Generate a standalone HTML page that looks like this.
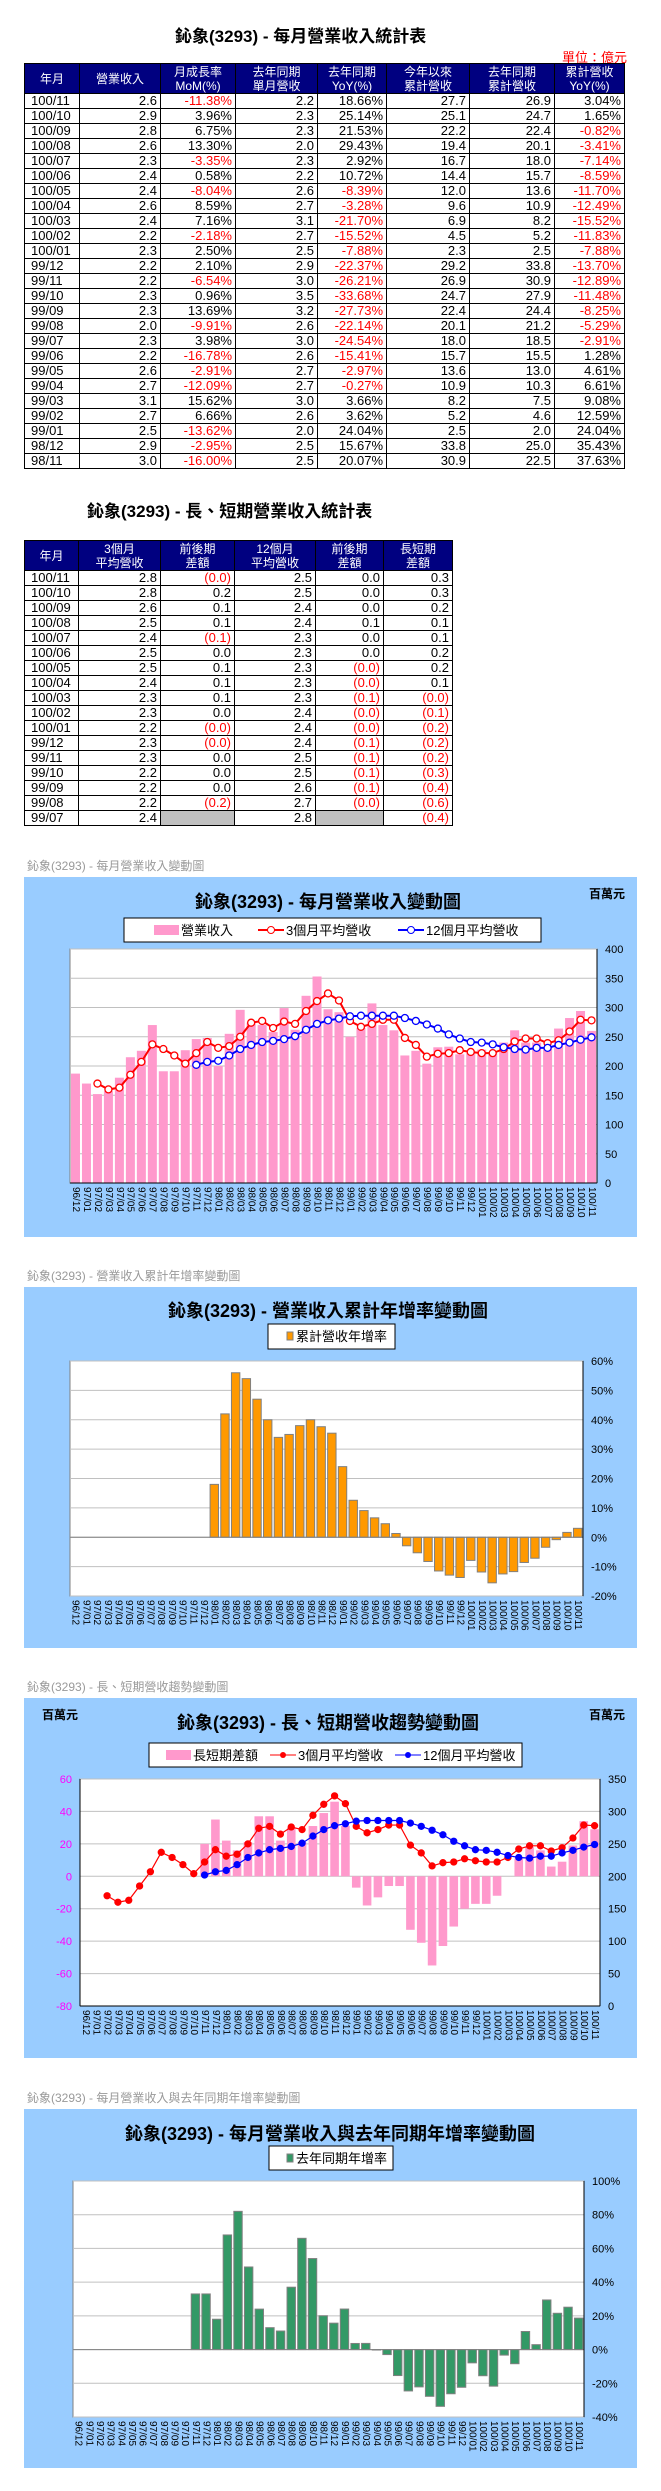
<!DOCTYPE html>
<html><head><meta charset="utf-8">
<style>
body{margin:0;width:661px;height:2491px;position:relative;background:#fff;font-family:"Liberation Sans","Noto Sans CJK TC",sans-serif;overflow:hidden}
.t{position:absolute;border-collapse:collapse;font-size:13px;table-layout:fixed}
.t td,.t th{border:1px solid #000;padding:0 3px;height:14px;line-height:14px;white-space:nowrap;overflow:hidden}
.t th{background:#000080;color:#fff;font-weight:normal;font-size:12px;line-height:14px;height:29px;text-align:center}
.t td{text-align:right}
.t td:first-child{text-align:left;padding-left:6px}
.neg{color:#f00}
.gr{background:#c0c0c0}
.ttl{position:absolute;font-weight:bold;font-size:17px;white-space:nowrap}
svg{position:absolute;left:0;top:0}
</style></head><body>
<div class="ttl" style="left:175px;top:22px">鈊象(3293) - 每月營業收入統計表</div>
<div style="position:absolute;left:562px;top:47px;color:#f00;font-size:13px">單位：億元</div>
<table class="t" style="left:24px;top:63px;width:600px">
<colgroup><col style="width:55px"><col style="width:81px"><col style="width:75px"><col style="width:82px"><col style="width:69px"><col style="width:83px"><col style="width:85px"><col style="width:70px"></colgroup>
<tr><th>年月</th><th>營業收入</th><th>月成長率<br>MoM(%)</th><th>去年同期<br>單月營收</th><th>去年同期<br>YoY(%)</th><th>今年以來<br>累計營收</th><th>去年同期<br>累計營收</th><th>累計營收<br>YoY(%)</th></tr>
<tr><td>100/11</td><td>2.6</td><td class="neg">-11.38%</td><td>2.2</td><td>18.66%</td><td>27.7</td><td>26.9</td><td>3.04%</td></tr>
<tr><td>100/10</td><td>2.9</td><td>3.96%</td><td>2.3</td><td>25.14%</td><td>25.1</td><td>24.7</td><td>1.65%</td></tr>
<tr><td>100/09</td><td>2.8</td><td>6.75%</td><td>2.3</td><td>21.53%</td><td>22.2</td><td>22.4</td><td class="neg">-0.82%</td></tr>
<tr><td>100/08</td><td>2.6</td><td>13.30%</td><td>2.0</td><td>29.43%</td><td>19.4</td><td>20.1</td><td class="neg">-3.41%</td></tr>
<tr><td>100/07</td><td>2.3</td><td class="neg">-3.35%</td><td>2.3</td><td>2.92%</td><td>16.7</td><td>18.0</td><td class="neg">-7.14%</td></tr>
<tr><td>100/06</td><td>2.4</td><td>0.58%</td><td>2.2</td><td>10.72%</td><td>14.4</td><td>15.7</td><td class="neg">-8.59%</td></tr>
<tr><td>100/05</td><td>2.4</td><td class="neg">-8.04%</td><td>2.6</td><td class="neg">-8.39%</td><td>12.0</td><td>13.6</td><td class="neg">-11.70%</td></tr>
<tr><td>100/04</td><td>2.6</td><td>8.59%</td><td>2.7</td><td class="neg">-3.28%</td><td>9.6</td><td>10.9</td><td class="neg">-12.49%</td></tr>
<tr><td>100/03</td><td>2.4</td><td>7.16%</td><td>3.1</td><td class="neg">-21.70%</td><td>6.9</td><td>8.2</td><td class="neg">-15.52%</td></tr>
<tr><td>100/02</td><td>2.2</td><td class="neg">-2.18%</td><td>2.7</td><td class="neg">-15.52%</td><td>4.5</td><td>5.2</td><td class="neg">-11.83%</td></tr>
<tr><td>100/01</td><td>2.3</td><td>2.50%</td><td>2.5</td><td class="neg">-7.88%</td><td>2.3</td><td>2.5</td><td class="neg">-7.88%</td></tr>
<tr><td>99/12</td><td>2.2</td><td>2.10%</td><td>2.9</td><td class="neg">-22.37%</td><td>29.2</td><td>33.8</td><td class="neg">-13.70%</td></tr>
<tr><td>99/11</td><td>2.2</td><td class="neg">-6.54%</td><td>3.0</td><td class="neg">-26.21%</td><td>26.9</td><td>30.9</td><td class="neg">-12.89%</td></tr>
<tr><td>99/10</td><td>2.3</td><td>0.96%</td><td>3.5</td><td class="neg">-33.68%</td><td>24.7</td><td>27.9</td><td class="neg">-11.48%</td></tr>
<tr><td>99/09</td><td>2.3</td><td>13.69%</td><td>3.2</td><td class="neg">-27.73%</td><td>22.4</td><td>24.4</td><td class="neg">-8.25%</td></tr>
<tr><td>99/08</td><td>2.0</td><td class="neg">-9.91%</td><td>2.6</td><td class="neg">-22.14%</td><td>20.1</td><td>21.2</td><td class="neg">-5.29%</td></tr>
<tr><td>99/07</td><td>2.3</td><td>3.98%</td><td>3.0</td><td class="neg">-24.54%</td><td>18.0</td><td>18.5</td><td class="neg">-2.91%</td></tr>
<tr><td>99/06</td><td>2.2</td><td class="neg">-16.78%</td><td>2.6</td><td class="neg">-15.41%</td><td>15.7</td><td>15.5</td><td>1.28%</td></tr>
<tr><td>99/05</td><td>2.6</td><td class="neg">-2.91%</td><td>2.7</td><td class="neg">-2.97%</td><td>13.6</td><td>13.0</td><td>4.61%</td></tr>
<tr><td>99/04</td><td>2.7</td><td class="neg">-12.09%</td><td>2.7</td><td class="neg">-0.27%</td><td>10.9</td><td>10.3</td><td>6.61%</td></tr>
<tr><td>99/03</td><td>3.1</td><td>15.62%</td><td>3.0</td><td>3.66%</td><td>8.2</td><td>7.5</td><td>9.08%</td></tr>
<tr><td>99/02</td><td>2.7</td><td>6.66%</td><td>2.6</td><td>3.62%</td><td>5.2</td><td>4.6</td><td>12.59%</td></tr>
<tr><td>99/01</td><td>2.5</td><td class="neg">-13.62%</td><td>2.0</td><td>24.04%</td><td>2.5</td><td>2.0</td><td>24.04%</td></tr>
<tr><td>98/12</td><td>2.9</td><td class="neg">-2.95%</td><td>2.5</td><td>15.67%</td><td>33.8</td><td>25.0</td><td>35.43%</td></tr>
<tr><td>98/11</td><td>3.0</td><td class="neg">-16.00%</td><td>2.5</td><td>20.07%</td><td>30.9</td><td>22.5</td><td>37.63%</td></tr>
</table>

<div class="ttl" style="left:87px;top:497px">鈊象(3293) - 長、短期營業收入統計表</div>
<table class="t" style="left:24px;top:540px;width:428px">
<colgroup><col style="width:54px"><col style="width:82px"><col style="width:74px"><col style="width:81px"><col style="width:68px"><col style="width:69px"></colgroup>
<tr><th>年月</th><th>3個月<br>平均營收</th><th>前後期<br>差額</th><th>12個月<br>平均營收</th><th>前後期<br>差額</th><th>長短期<br>差額</th></tr>
<tr><td>100/11</td><td>2.8</td><td class="neg">(0.0)</td><td>2.5</td><td>0.0</td><td>0.3</td></tr>
<tr><td>100/10</td><td>2.8</td><td>0.2</td><td>2.5</td><td>0.0</td><td>0.3</td></tr>
<tr><td>100/09</td><td>2.6</td><td>0.1</td><td>2.4</td><td>0.0</td><td>0.2</td></tr>
<tr><td>100/08</td><td>2.5</td><td>0.1</td><td>2.4</td><td>0.1</td><td>0.1</td></tr>
<tr><td>100/07</td><td>2.4</td><td class="neg">(0.1)</td><td>2.3</td><td>0.0</td><td>0.1</td></tr>
<tr><td>100/06</td><td>2.5</td><td>0.0</td><td>2.3</td><td>0.0</td><td>0.2</td></tr>
<tr><td>100/05</td><td>2.5</td><td>0.1</td><td>2.3</td><td class="neg">(0.0)</td><td>0.2</td></tr>
<tr><td>100/04</td><td>2.4</td><td>0.1</td><td>2.3</td><td class="neg">(0.0)</td><td>0.1</td></tr>
<tr><td>100/03</td><td>2.3</td><td>0.1</td><td>2.3</td><td class="neg">(0.1)</td><td class="neg">(0.0)</td></tr>
<tr><td>100/02</td><td>2.3</td><td>0.0</td><td>2.4</td><td class="neg">(0.0)</td><td class="neg">(0.1)</td></tr>
<tr><td>100/01</td><td>2.2</td><td class="neg">(0.0)</td><td>2.4</td><td class="neg">(0.0)</td><td class="neg">(0.2)</td></tr>
<tr><td>99/12</td><td>2.3</td><td class="neg">(0.0)</td><td>2.4</td><td class="neg">(0.1)</td><td class="neg">(0.2)</td></tr>
<tr><td>99/11</td><td>2.3</td><td>0.0</td><td>2.5</td><td class="neg">(0.1)</td><td class="neg">(0.2)</td></tr>
<tr><td>99/10</td><td>2.2</td><td>0.0</td><td>2.5</td><td class="neg">(0.1)</td><td class="neg">(0.3)</td></tr>
<tr><td>99/09</td><td>2.2</td><td>0.0</td><td>2.6</td><td class="neg">(0.1)</td><td class="neg">(0.4)</td></tr>
<tr><td>99/08</td><td>2.2</td><td class="neg">(0.2)</td><td>2.7</td><td class="neg">(0.0)</td><td class="neg">(0.6)</td></tr>
<tr><td>99/07</td><td>2.4</td><td class="gr"></td><td>2.8</td><td class="gr"></td><td class="neg">(0.4)</td></tr>
</table>

<svg id="charts" width="661" height="2491"></svg>

<script>
const cats=["96/12","97/01","97/02","97/03","97/04","97/05","97/06","97/07","97/08","97/09","97/10","97/11","97/12","98/01","98/02","98/03","98/04","98/05","98/06","98/07","98/08","98/09","98/10","98/11","98/12","99/01","99/02","99/03","99/04","99/05","99/06","99/07","99/08","99/09","99/10","99/11","99/12","100/01","100/02","100/03","100/04","100/05","100/06","100/07","100/08","100/09","100/10","100/11"];
const revenue=[187,170,152,157,180,215,226,270,191,191,227,246,248,200,255,296,274,270,258,299,262,320,353,297,292,250,265,307,270,261,218,226,204,232,233,220,222,228,223,240,261,240,240,232,264,282,294,260];
const avg3=[null,null,170,160,163,185,207,237,229,218,204,222,241,231,234,250,274,277,265,276,272,294,311,324,312,277,267,272,279,279,248,236,216,221,222,227,224,222,222,229,242,247,247,239,244,259,279,278];
const avg12=[null,null,null,null,null,null,null,null,null,null,null,202,207,209,218,229,236,241,243,246,251,262,272,278,281,285,286,286,286,286,282,277,271,264,254,247,241,240,237,232,229,228,231,231,236,240,245,249];
const cumYoY=[null,null,null,null,null,null,null,null,null,null,null,null,null,18,42,56,54,47,40,34,35,38,40,37.63,35.43,24.04,12.59,9.08,6.61,4.61,1.28,-2.91,-5.29,-8.25,-11.48,-12.89,-13.7,-7.88,-11.83,-15.52,-12.49,-11.7,-8.59,-7.14,-3.41,-0.82,1.65,3.04];
const longShortDiff=[null,null,null,null,null,null,null,null,null,null,null,20,35,22,16,21,37,37,22,30,21,31,39,46,31,-7,-18,-13,-6,-6,-33,-41,-55,-43,-31,-20,-17,-17,-12,0,11,18,16,6,9,19,34,29];
const yoy=[null,null,null,null,null,null,null,null,null,null,null,33,33,18,68,82,49,24,13,11,37,66,54,20.07,15.67,24.04,3.62,3.66,-0.27,-2.97,-15.41,-24.54,-22.14,-27.73,-33.68,-26.21,-22.37,-7.88,-15.52,-21.7,-3.28,-8.39,10.72,2.92,29.43,21.53,25.14,18.66];
const ticks1=[0,50,100,150,200,250,300,350,400];
const ticks2=[-20,-10,0,10,20,30,40,50,60];
const ticks3L=[-80,-60,-40,-20,0,20,40,60];
const ticks3R=[0,50,100,150,200,250,300,350];
const ticks4=[-40,-20,0,20,40,60,80,100];

const NS="http://www.w3.org/2000/svg";
const svg=document.getElementById('charts');
function el(tag,attrs,parent,txt){const e=document.createElementNS(NS,tag);for(const k in attrs)e.setAttribute(k,attrs[k]);if(txt!==undefined)e.textContent=txt;(parent||svg).appendChild(e);return e;}
function lin(min,max,top,bot){return v=>bot-(v-min)/(max-min)*(bot-top);}
function xband(l,r,n){const w=(r-l)/n;return i=>l+w*(i+0.5);}
const F='"Liberation Sans","Noto Sans CJK TC",sans-serif';

function frame(g,o){
  const bg=el('rect',{x:24,y:o.top,width:613,height:o.h,fill:'#99ccff'},g);
  
  
  const lab=el('text',{x:27,y:o.top-7,'font-size':12,fill:'#999','font-family':F},g,o.label);
  
  
  const t=el('text',{x:o.tx,y:o.ty,'font-size':18,'text-anchor':'middle','font-family':F,fill:'#000','font-weight':'bold'},g,o.title);
  
  
  const p=el('rect',{x:o.L,y:o.T,width:o.R-o.L,height:o.B-o.T,fill:'#fff',stroke:'#808080'},g);
  
  
}
function grid(g,ticks,sc,o,side,color,fmt){
  ticks.forEach(v=>{
    const y=sc(v);
    if(side==='R'){const gl=el('line',{x1:o.L,x2:o.R,y1:y,y2:y,stroke:'#c0c0c0'},g);
      
      }
    const x=side==='R'?o.R+8:o.L-8;
    const tl=el('text',{x:x,y:y+4,'font-size':11,'text-anchor':side==='R'?'start':'end',fill:color,'font-family':F},g,fmt(v));
    
    
  });
}
function xlabels(g,o,xs){
  cats.forEach((c,i)=>{
    const x=xs(i);
    const t=el('text',{x:x,y:o.B+4,'font-size':10,'font-family':F,transform:`rotate(90 ${x} ${o.B+4})`,'dominant-baseline':'middle'},g,c);
    
    
  });
}
function bars(g,data,xs,sc,w,fill,stroke,name){
  data.forEach((v,i)=>{
    if(v===null)return;
    const y0=sc(0),y1=sc(v);
    const r=el('rect',{x:xs(i)-w/2,y:Math.min(y0,y1),width:w,height:Math.abs(y1-y0),fill:fill,stroke:stroke||'none'},g);
    
    
  });
}
function line(g,data,xs,sc,color,filled,name){
  let d='';
  data.forEach((v,i)=>{if(v===null)return;d+=(d?'L':'M')+xs(i)+' '+sc(v);});
  const p=el('path',{d:d,fill:'none',stroke:color,'stroke-width':filled?1.2:2},g);
  
  
  data.forEach((v,i)=>{if(v===null)return;
    const c=el('circle',{cx:xs(i),cy:sc(v),r:filled?3:3.5,fill:filled?color:'#fff',stroke:color,'stroke-width':1.3},g);
    
    
  });
}
function legendBox(g,x,y,w,h){const r=el('rect',{x:x,y:y,width:w,height:h,fill:'#fff',stroke:'#000'},g);
  
  }
function legText(g,x,y,s){const t=el('text',{x:x,y:y,'font-size':13,'font-family':F},g,s);
  
  }

// Chart 1
(function(){
  const g=el('g',{});
  
  
  const o={top:877,h:360,label:'鈊象(3293) - 每月營業收入變動圖',title:'鈊象(3293) - 每月營業收入變動圖',tx:328,ty:908,L:70,R:597,T:949,B:1183};
  frame(g,o);
  const u=el('text',{x:589,y:898,'font-size':12,'font-weight':'bold','font-family':F},g,'百萬元');
  
  
  const sc=lin(0,400,o.T,o.B),xs=xband(o.L,o.R,cats.length);
  grid(g,ticks1,sc,o,'R','#000',v=>v);
  bars(g,revenue,xs,sc,9,'#ff99cc',null,'revenue-bar');
  line(g,avg3,xs,sc,'#ff0000',false,'avg3');
  line(g,avg12,xs,sc,'#0000ff',false,'avg12');
  el('line',{x1:o.R,x2:o.R,y1:o.T,y2:o.B,stroke:'#000'},g);
  el('line',{x1:o.L,x2:o.R,y1:o.B,y2:o.B,stroke:'#000'},g);
  xlabels(g,o,xs);
  legendBox(g,124,918,417,24);
  el('rect',{x:154,y:925,width:25,height:10,fill:'#ff99cc'},g);
  legText(g,181,935,'營業收入');
  el('line',{x1:258,x2:284,y1:930,y2:930,stroke:'#f00','stroke-width':2},g);
  el('circle',{cx:271,cy:930,r:3.5,fill:'#fff',stroke:'#f00'},g);
  legText(g,286,935,'3個月平均營收');
  el('line',{x1:398,x2:424,y1:930,y2:930,stroke:'#00f','stroke-width':2},g);
  el('circle',{cx:411,cy:930,r:3.5,fill:'#fff',stroke:'#00f'},g);
  legText(g,426,935,'12個月平均營收');
})();

// Chart 2
(function(){
  const g=el('g',{});
  
  
  const o={top:1287,h:361,label:'鈊象(3293) -  營業收入累計年增率變動圖',title:'鈊象(3293) -  營業收入累計年增率變動圖',tx:328,ty:1317,L:70,R:583,T:1361,B:1596};
  frame(g,o);
  const sc=lin(-20,60,o.T,o.B),xs=xband(o.L,o.R,cats.length);
  grid(g,ticks2,sc,o,'R','#000',v=>v+'%');
  bars(g,cumYoY,xs,sc,8.4,'#ff9900','#808080','cum-yoy-bar');
  el('line',{x1:o.L,x2:o.R,y1:sc(0),y2:sc(0),stroke:'#808080'},g);
  el('line',{x1:o.R,x2:o.R,y1:o.T,y2:o.B,stroke:'#000'},g);
  xlabels(g,o,xs);
  legendBox(g,268,1324,127,25);
  el('rect',{x:287,y:1332,width:6,height:8,fill:'#ff9900',stroke:'#808080'},g);
  legText(g,296,1341,'累計營收年增率');
})();

// Chart 3
(function(){
  const g=el('g',{});
  
  
  const o={top:1698,h:360,label:'鈊象(3293) -  長、短期營收趨勢變動圖',title:'鈊象(3293) -  長、短期營收趨勢變動圖',tx:328,ty:1729,L:80,R:600,T:1779,B:2006};
  frame(g,o);
  const u1=el('text',{x:42,y:1719,'font-size':12,'font-weight':'bold','font-family':F},g,'百萬元');
  
  
  const u2=el('text',{x:589,y:1719,'font-size':12,'font-weight':'bold','font-family':F},g,'百萬元');
  
  
  const scL=lin(-80,60,o.T,o.B),scR=lin(0,350,o.T,o.B),xs=xband(o.L,o.R,cats.length);
  grid(g,ticks3R,scR,o,'R','#000',v=>v);
  grid(g,ticks3L,scL,o,'L','#ff00ff',v=>v);
  bars(g,longShortDiff,xs,scL,8.6,'#ff99cc',null,'long-short-diff-bar');
  line(g,avg3,xs,scR,'#ff0000',true,'avg3-trend');
  line(g,avg12,xs,scR,'#0000ff',true,'avg12-trend');
  el('line',{x1:o.R,x2:o.R,y1:o.T,y2:o.B,stroke:'#000'},g);
  el('line',{x1:o.L,x2:o.L,y1:o.T,y2:o.B,stroke:'#000'},g);
  el('line',{x1:o.L,x2:o.R,y1:o.B,y2:o.B,stroke:'#000'},g);
  xlabels(g,o,xs);
  legendBox(g,149,1743,373,24);
  el('rect',{x:166,y:1750,width:25,height:10,fill:'#ff99cc'},g);
  legText(g,193,1760,'長短期差額');
  el('line',{x1:270,x2:296,y1:1755,y2:1755,stroke:'#f00'},g);
  el('circle',{cx:283,cy:1755,r:3,fill:'#f00'},g);
  legText(g,298,1760,'3個月平均營收');
  el('line',{x1:395,x2:421,y1:1755,y2:1755,stroke:'#00f'},g);
  el('circle',{cx:408,cy:1755,r:3,fill:'#00f'},g);
  legText(g,423,1760,'12個月平均營收');
})();

// Chart 4
(function(){
  const g=el('g',{});
  
  
  const o={top:2109,h:359,label:'鈊象(3293) -  每月營業收入與去年同期年增率變動圖',title:'鈊象(3293) -  每月營業收入與去年同期年增率變動圖',tx:330,ty:2140,L:73,R:584,T:2181,B:2417};
  frame(g,o);
  const sc=lin(-40,100,o.T,o.B),xs=xband(o.L,o.R,cats.length);
  grid(g,ticks4,sc,o,'R','#000',v=>v+'%');
  bars(g,yoy,xs,sc,8.4,'#339966','#808080','yoy-bar');
  el('line',{x1:o.L,x2:o.R,y1:sc(0),y2:sc(0),stroke:'#808080'},g);
  el('line',{x1:o.R,x2:o.R,y1:o.T,y2:o.B,stroke:'#000'},g);
  xlabels(g,o,xs);
  legendBox(g,269,2146,124,24);
  el('rect',{x:287,y:2154,width:6,height:8,fill:'#339966',stroke:'#808080'},g);
  legText(g,296,2163,'去年同期年增率');
})();
</script>
</body></html>
